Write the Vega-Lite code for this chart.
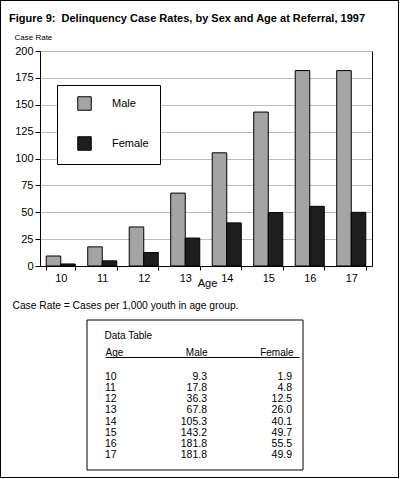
{
  "$schema": "https://vega.github.io/schema/vega-lite/v6.json",
  "width": 399,
  "height": 478,
  "autosize": {"type": "none"},
  "padding": 0,
  "background": "white",
  "title": {
    "text": "Figure 9:\u00a0 Delinquency Case Rates, by Sex and Age at Referral, 1997",
    "anchor": "start",
    "frame": "group",
    "dx": 9,
    "offset": -24,
    "baseline": "top",
    "fontSize": 11,
    "fontWeight": "bold",
    "color": "black"
  },
  "config": {
    "font": "Liberation Sans",
    "view": {"stroke": "black", "strokeWidth": 2},
    "axis": {
      "labelColor": "black",
      "titleColor": "black",
      "domainColor": "black",
      "tickColor": "black",
      "titleFontWeight": "normal"
    },
    "legend": {"labelColor": "black"}
  },
  "datasets": {
    "rates": [
      {"age": 10, "sex": "Male", "rate": 9.3},
      {"age": 10, "sex": "Female", "rate": 1.9},
      {"age": 11, "sex": "Male", "rate": 17.8},
      {"age": 11, "sex": "Female", "rate": 4.8},
      {"age": 12, "sex": "Male", "rate": 36.3},
      {"age": 12, "sex": "Female", "rate": 12.5},
      {"age": 13, "sex": "Male", "rate": 67.8},
      {"age": 13, "sex": "Female", "rate": 26.0},
      {"age": 14, "sex": "Male", "rate": 105.3},
      {"age": 14, "sex": "Female", "rate": 40.1},
      {"age": 15, "sex": "Male", "rate": 143.2},
      {"age": 15, "sex": "Female", "rate": 49.7},
      {"age": 16, "sex": "Male", "rate": 181.8},
      {"age": 16, "sex": "Female", "rate": 55.5},
      {"age": 17, "sex": "Male", "rate": 181.8},
      {"age": 17, "sex": "Female", "rate": 49.9}
    ]
  },
  "layer": [
    {
      "data": {"name": "rates"},
      "layer": [
        {
          "mark": {"type": "bar", "stroke": "black", "strokeWidth": 1},
          "encoding": {
            "x": {
              "field": "age",
              "type": "ordinal",
              "scale": {"range": [40, 372], "paddingInner": 0.3, "paddingOuter": 0.15},
              "axis": {
                "orient": "bottom",
                "offset": -212,
                "title": "Age",
                "titleFontSize": 11,
                "titleX": 207,
                "titleY": 17,
                "titleBaseline": "middle",
                "labelAngle": 0,
                "labelFontSize": 11,
                "labelPadding": 2,
                "tickSize": 4,
                "tickBand": "extent",
                "grid": false
              }
            },
            "xOffset": {
              "field": "sex",
              "type": "nominal",
              "scale": {"domain": ["Male", "Female"], "paddingInner": 0, "paddingOuter": 0}
            },
            "y": {
              "field": "rate",
              "type": "quantitative",
              "scale": {"domain": [0, 200], "range": [266, 51], "nice": false},
              "axis": {
                "orient": "left",
                "offset": -40,
                "values": [0, 25, 50, 75, 100, 125, 150, 175, 200],
                "grid": true,
                "gridColor": "#bbbbbb",
                "gridWidth": 1,
                "tickSize": 5,
                "labelPadding": 2,
                "labelFontSize": 11,
                "title": "Case Rate",
                "titleAngle": 0,
                "titleAlign": "left",
                "titleBaseline": "middle",
                "titleX": -26,
                "titleY": 37,
                "titleFontSize": 8
              }
            },
            "color": {
              "field": "sex",
              "type": "nominal",
              "scale": {"domain": ["Male", "Female"], "range": ["#a4a4a4", "#1e1e1e"]},
              "legend": {
                "orient": "none",
                "legendX": 57,
                "legendY": 85,
                "title": null,
                "symbolType": "square",
                "symbolSize": 182,
                "symbolStrokeColor": "black",
                "symbolStrokeWidth": 1,
                "symbolOffset": 9,
                "labelOffset": 20,
                "labelFontSize": 11,
                "labelExpr": "datum.label + '   '",
                "rowPadding": 21,
                "padding": 11,
                "strokeColor": "black",
                "fillColor": "white"
              }
            }
          }
        },
        {
          "mark": {"type": "rule", "opacity": 0},
          "encoding": {
            "y": {
              "field": "rate",
              "type": "quantitative",
              "axis": {
                "orient": "right",
                "offset": -27,
                "labels": false,
                "ticks": false,
                "grid": false,
                "title": null
              }
            }
          }
        }
      ],
      "resolve": {"axis": {"y": "independent"}}
    },
    {
      "data": {"name": "rates"},
      "layer": [
        {
          "transform": [{"filter": "datum.age === 10 && datum.sex === 'Male'"}],
          "mark": {
            "type": "rect",
            "fillOpacity": 0,
            "stroke": "black",
            "strokeWidth": 1,
            "xOffset": -18,
            "x2Offset": 4,
            "yOffset": -57,
            "y2Offset": 15
          },
          "encoding": {
            "x": {
              "datum": "Age",
              "type": "ordinal",
              "scale": {"type": "point", "domain": ["Age", "Male", "Female"], "range": [105, 299], "padding": 0},
              "axis": {
                "orient": "top",
                "offset": -357,
                "ticks": false,
                "tickSize": 0,
                "grid": false,
                "labelAngle": 0,
                "labelFontSize": 10,
                "labelPadding": 2,
                "labelBaseline": "alphabetic",
                "labelAlign": {"condition": {"test": "datum.value === 'Age'", "value": "left"}, "value": "right"},
                "labelOffset": {
                  "condition": [
                    {"test": "datum.value === 'Male'", "value": 5},
                    {"test": "datum.value === 'Female'", "value": -6}
                  ],
                  "value": 0
                },
                "title": "Data Table",
                "titleAngle": 0,
                "titleAlign": "left",
                "titleBaseline": "middle",
                "titleX": 104,
                "titleY": -22,
                "titleFontSize": 10
              }
            },
            "x2": {"datum": "Female"},
            "y": {
              "datum": 10,
              "type": "ordinal",
              "scale": {"type": "point", "domain": [10, 11, 12, 13, 14, 15, 16, 17], "range": [377, 455], "padding": 0},
              "axis": {
                "orient": "left",
                "offset": 0,
                "domain": false,
                "ticks": false,
                "labels": false,
                "grid": false,
                "title": "Case Rate = Cases per 1,000 youth in age group.",
                "titleAngle": 0,
                "titleAlign": "left",
                "titleBaseline": "middle",
                "titleX": 12,
                "titleY": 305,
                "titleFontSize": 10.25
              }
            },
            "y2": {"datum": 17}
          }
        },
        {
          "transform": [{"filter": "datum.sex === 'Male'"}],
          "mark": {"type": "text", "align": "left", "baseline": "middle", "fontSize": 10.5, "color": "black"},
          "encoding": {
            "x": {"datum": "Age", "type": "ordinal"},
            "y": {"field": "age", "type": "ordinal"},
            "text": {"field": "age"}
          }
        },
        {
          "transform": [{"filter": "datum.sex === 'Male'"}],
          "mark": {"type": "text", "align": "right", "baseline": "middle", "dx": 5, "fontSize": 10.5, "color": "black"},
          "encoding": {
            "x": {"datum": "Male", "type": "ordinal"},
            "y": {"field": "age", "type": "ordinal"},
            "text": {"field": "rate", "format": ".1f"}
          }
        },
        {
          "transform": [{"filter": "datum.sex === 'Female'"}],
          "mark": {"type": "text", "align": "right", "baseline": "middle", "dx": -7, "fontSize": 10.5, "color": "black"},
          "encoding": {
            "x": {"datum": "Female", "type": "ordinal"},
            "y": {"field": "age", "type": "ordinal"},
            "text": {"field": "rate", "format": ".1f"}
          }
        }
      ]
    }
  ],
  "resolve": {"scale": {"x": "independent", "y": "independent"}}
}
